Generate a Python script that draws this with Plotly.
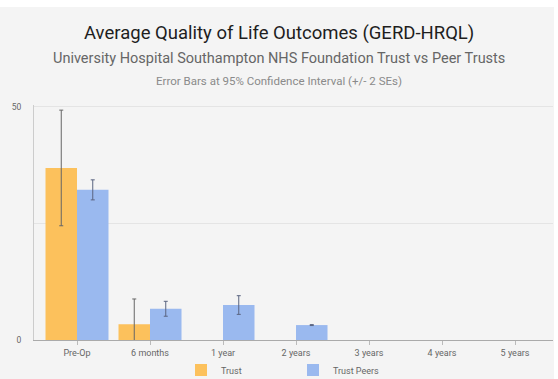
import plotly.graph_objects as go

categories = ["Pre-Op", "6 months", "1 year", "2 years", "3 years", "4 years", "5 years"]
trust_values = [36.9, 3.4, None, None, None, None, None]
trust_errors = [12.4, 5.4, None, None, None, None, None]
peer_values = [32.2, 6.7, 7.5, 3.2, None, None, None]
peer_errors = [2.15, 1.6, 2.0, 0.1, None, None, None]
y_tickvals = [0, 25, 50]
y_ticktext = ["0", "", "50"]

W, H = 558, 379
L, R, T, B = 34, 5, 105, 39
pw = W - L - R
ph = H - T - B

def px_x(p):
    return (p - L) / pw

def px_y(p):
    return (H - B - p) / ph

fig = go.Figure()
fig.add_trace(go.Bar(
    name="Trust", x=categories, y=trust_values,
    marker=dict(color="#fcc15c", line=dict(width=0)),
    error_y=dict(type="data", array=trust_errors, visible=True,
                 color="#666666", thickness=1, width=2),
))
fig.add_trace(go.Bar(
    name="Trust Peers", x=categories, y=peer_values,
    marker=dict(color="#9ab9ef", line=dict(width=0)),
    error_y=dict(type="data", array=peer_errors, visible=True,
                 color="#5a6480", thickness=1, width=2),
))

fig.add_shape(type="rect", xref="paper", yref="paper",
              x0=px_x(0), x1=px_x(554), y0=px_y(379), y1=px_y(7),
              fillcolor="#f4f4f4", line=dict(width=0), layer="below")

title_font = "Roboto, 'Noto Sans', sans-serif"
fig.add_annotation(text="Average Quality of Life Outcomes (GERD-HRQL)",
                   xref="paper", yref="paper", x=px_x(279), y=px_y(33),
                   showarrow=False, xanchor="center", yanchor="middle",
                   font=dict(family=title_font, size=18.5, color="#1e1e1e"))
fig.add_annotation(text="University Hospital Southampton NHS Foundation Trust vs Peer Trusts",
                   xref="paper", yref="paper", x=px_x(279), y=px_y(58),
                   showarrow=False, xanchor="center", yanchor="middle",
                   font=dict(family=title_font, size=14.5, color="#666666"))
fig.add_annotation(text="Error Bars at 95% Confidence Interval (+/- 2 SEs)",
                   xref="paper", yref="paper", x=px_x(279), y=px_y(81),
                   showarrow=False, xanchor="center", yanchor="middle",
                   font=dict(family=title_font, size=11.5, color="#8a8a8a"))

fig.update_layout(
    width=W, height=H,
    margin=dict(l=L, r=R, t=T, b=B, pad=0, autoexpand=False),
    paper_bgcolor="white",
    plot_bgcolor="rgba(0,0,0,0)",
    barmode="group", bargap=0.137, bargroupgap=0,
    font=dict(family="Roboto, sans-serif", size=9, color="#666666"),
    showlegend=True,
    legend=dict(orientation="h", xref="container", yref="container",
                x=181 / W, y=1 - 370 / H,
                xanchor="left", yanchor="middle",
                entrywidth=67, entrywidthmode="pixels",
                bgcolor="rgba(0,0,0,0)",
                font=dict(size=9, color="#666666"),
                itemsizing="constant"),
    xaxis=dict(
        type="category", range=[-0.589, 6.52], automargin=False,
        showgrid=False, showline=True, linecolor="#aaaaaa", linewidth=1,
        ticks="outside", ticklen=4, tickcolor="#bbbbbb",
        tickfont=dict(size=9, color="#666666"),
        fixedrange=True,
    ),
    yaxis=dict(
        range=[0, 50.4], tickvals=y_tickvals, ticktext=y_ticktext, automargin=False,
        showgrid=True, gridcolor="#e4e4e4", gridwidth=1,
        zeroline=False, showline=True, linecolor="#cccccc", linewidth=1,
        ticks="", ticklabelstandoff=10,
        tickfont=dict(size=8.5, color="#666666"),
        fixedrange=True,
    ),
)

fig.write_html("out.html", config={"displayModeBar": False},
               post_script="document.body.style.margin='0';")
